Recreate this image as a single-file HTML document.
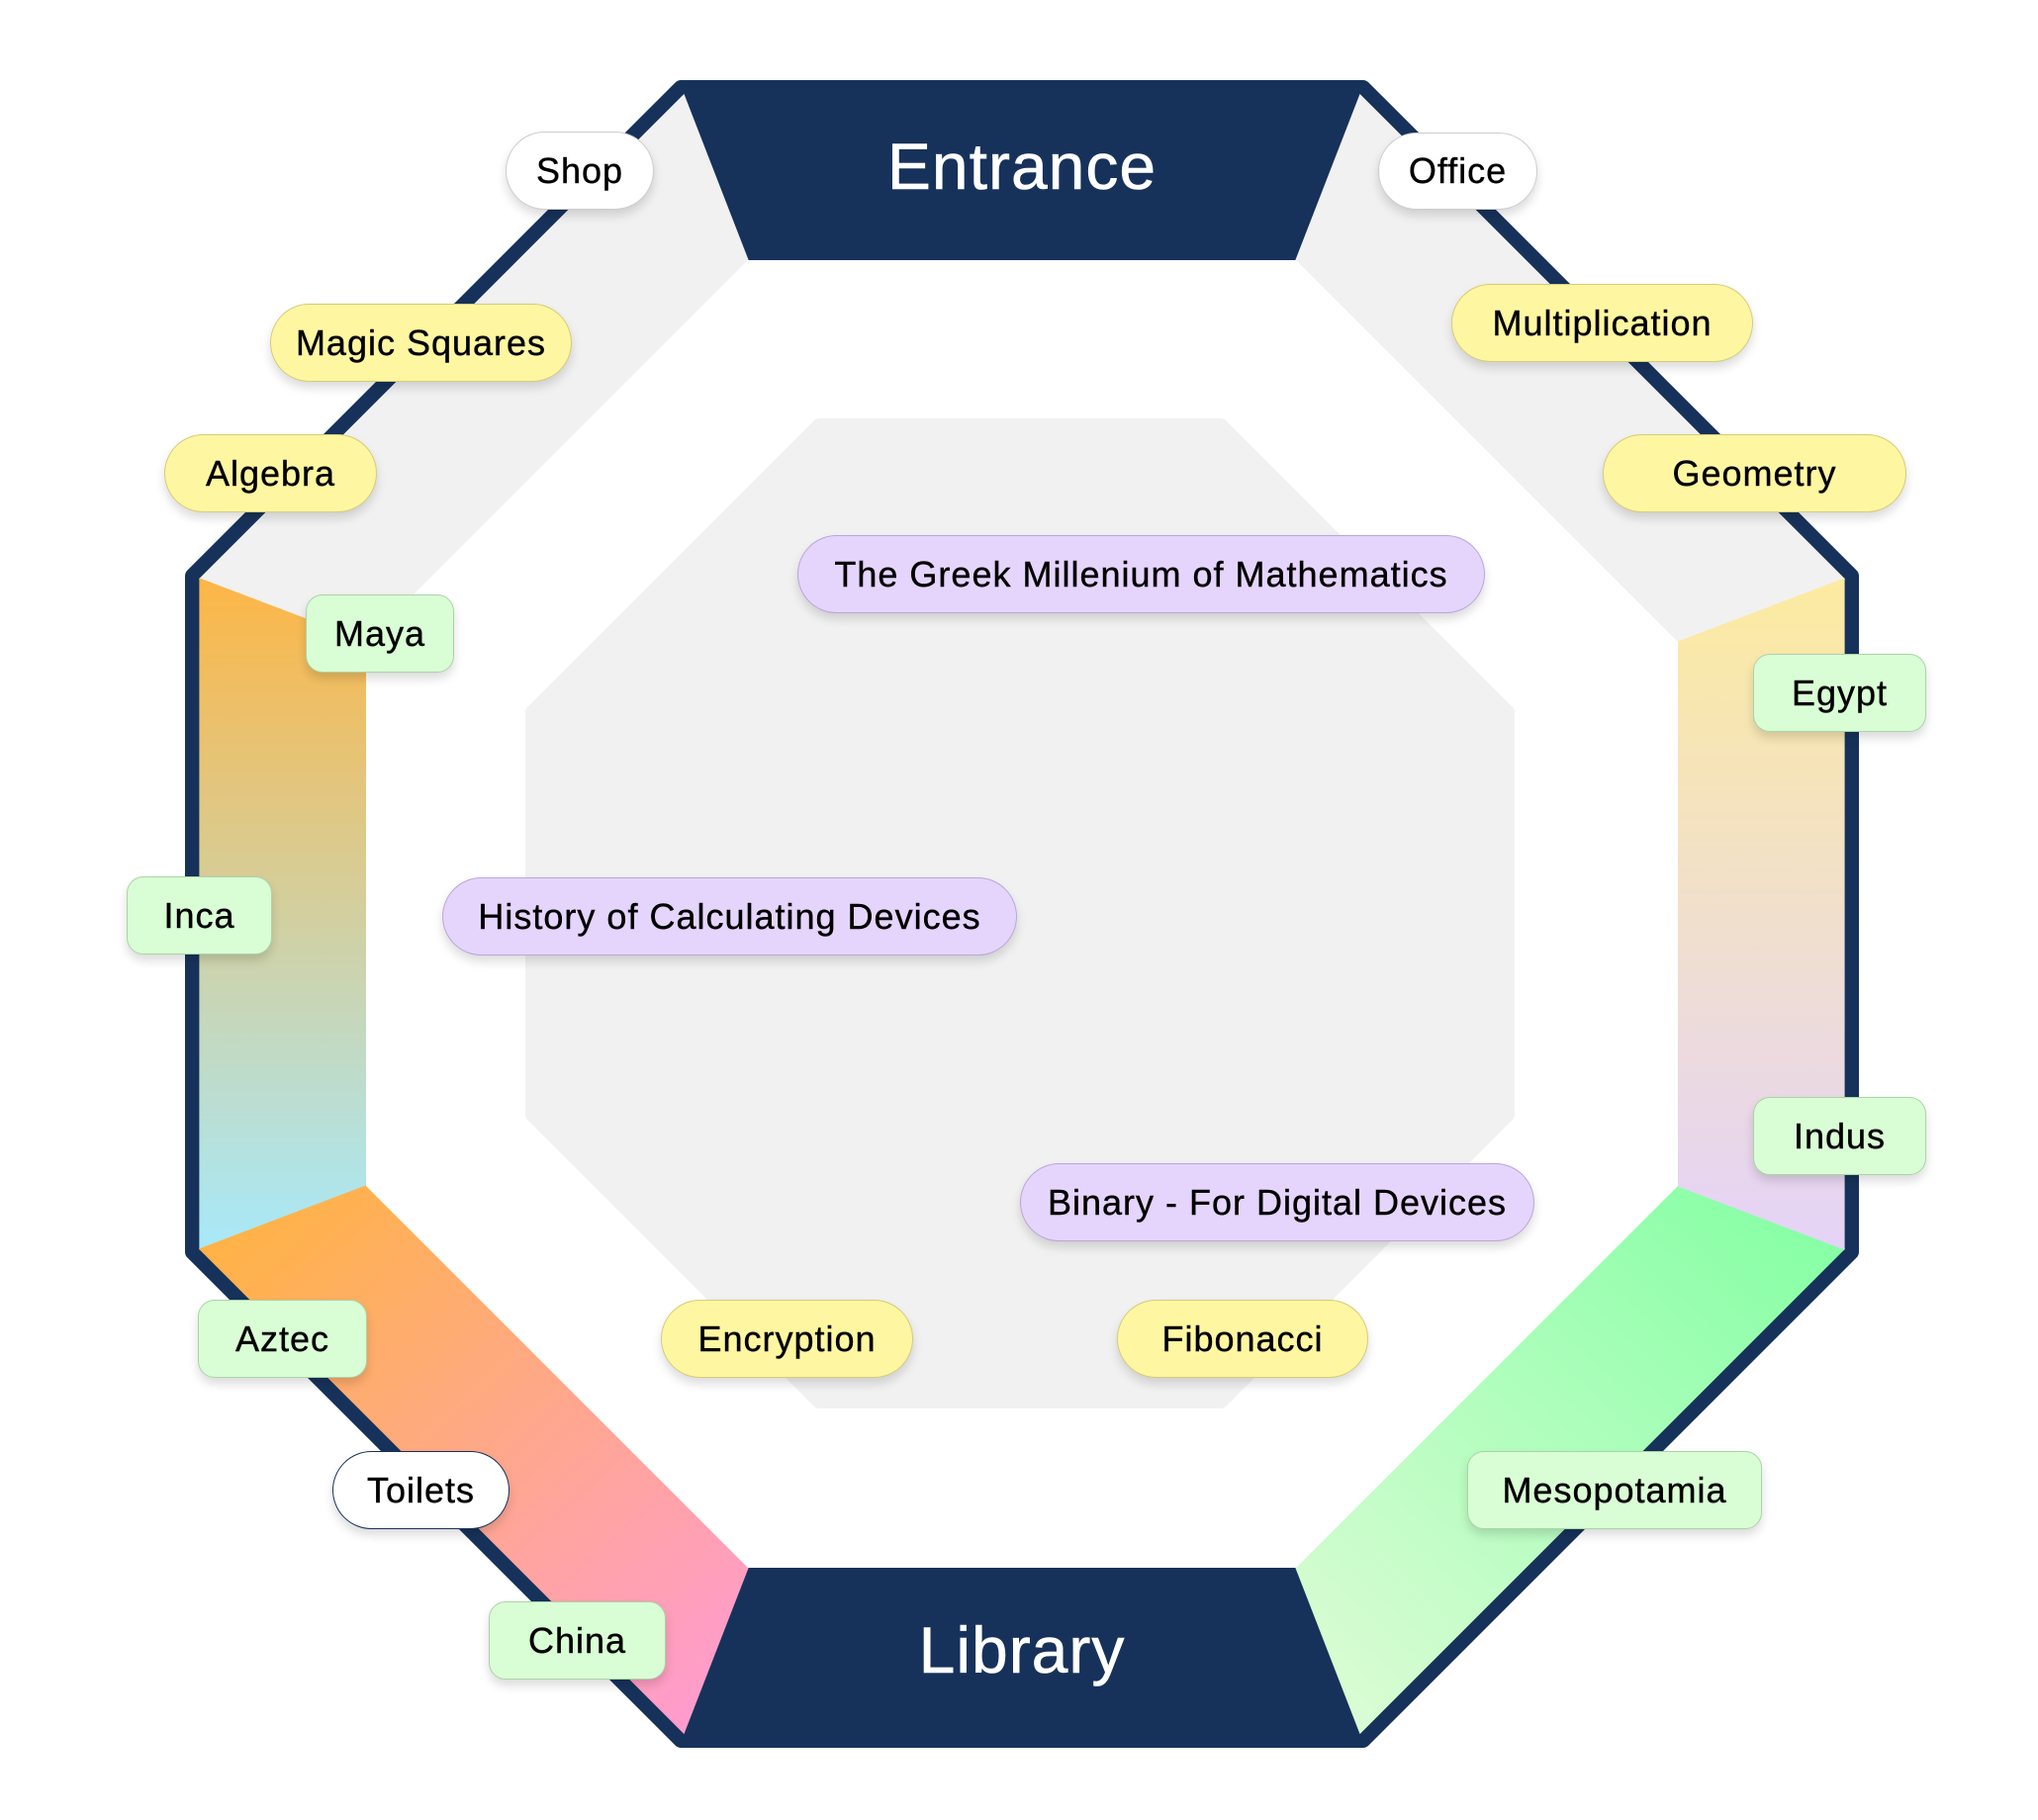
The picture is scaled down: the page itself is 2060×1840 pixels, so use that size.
<!DOCTYPE html>
<html>
<head>
<meta charset="utf-8">
<style>
  html, body { margin: 0; padding: 0; background: #ffffff; }
  body { width: 2060px; height: 1840px; position: relative; overflow: hidden;
         font-family: "Liberation Sans", "DejaVu Sans", sans-serif; }
  svg.bg { position: absolute; left: 0; top: 0; }
  .n { position: absolute; box-sizing: border-box; display: flex; align-items: center;
       justify-content: center; font-size: 36px; letter-spacing: 1px; color: #000;
       white-space: nowrap; box-shadow: 0 6px 10px rgba(0,0,0,0.14);
       -webkit-text-stroke: 0.4px #000; }
  .y { background: #FEF6A1; border: 1.5px solid #D6CC78; border-radius: 40px; }
  .g { background: #D9FDD5; border: 1.5px solid #AAD4A6; border-radius: 17px; }
  .p { background: #E5D5FC; border: 1.5px solid #B9A7DA; border-radius: 40px; }
  .w { background: #FFFFFF; border: 1.5px solid #CDCDCD; border-radius: 40px; }
  .wn { background: #FFFFFF; border: 1.5px solid #17325A; border-radius: 40px; }
</style>
</head>
<body>
<svg class="bg" width="2060" height="1840" viewBox="0 0 2060 1840" xmlns="http://www.w3.org/2000/svg">
  <defs>
    <linearGradient id="gLeft" gradientUnits="userSpaceOnUse" x1="0" y1="585" x2="0" y2="1263">
      <stop offset="0" stop-color="#FDB646"/>
      <stop offset="1" stop-color="#A8E9F9"/>
    </linearGradient>
    <linearGradient id="gBL" gradientUnits="userSpaceOnUse" x1="270" y1="1220" x2="720" y2="1720">
      <stop offset="0" stop-color="#FFB347"/>
      <stop offset="1" stop-color="#FF9CCE"/>
    </linearGradient>
    <linearGradient id="gBR" gradientUnits="userSpaceOnUse" x1="1800" y1="1220" x2="1350" y2="1720">
      <stop offset="0" stop-color="#88FFA6"/>
      <stop offset="1" stop-color="#DAFCD4"/>
    </linearGradient>
    <linearGradient id="gRight" gradientUnits="userSpaceOnUse" x1="0" y1="585" x2="0" y2="1263">
      <stop offset="0" stop-color="#FCEBA0"/>
      <stop offset="1" stop-color="#E5D3F8"/>
    </linearGradient>
  </defs>

  <!-- outer navy octagon -->
  <polygon points="688.3,89 1377.7,89 1871,582.3 1871,1265.7 1377.7,1759 688.3,1759 195,1265.7 195,582.3"
           fill="#17325A" stroke="#17325A" stroke-width="16" stroke-linejoin="round"/>

  <!-- band segments -->
  <polygon points="691.2,96 202,585.2 370,649 756,263" fill="#F1F1F1" stroke="#F1F1F1" stroke-width="1.2"/>
  <polygon points="1374.8,96 1864,585.2 1696,649 1310,263" fill="#F1F1F1" stroke="#F1F1F1" stroke-width="1.2"/>
  <polygon points="202,585.2 370,649 370,1199 202,1262.8" fill="url(#gLeft)" stroke="url(#gLeft)" stroke-width="1.2"/>
  <polygon points="202,1262.8 370,1199 756,1585 691.2,1752" fill="url(#gBL)" stroke="url(#gBL)" stroke-width="1.2"/>
  <polygon points="1864,1262.8 1696,1199 1310,1585 1374.8,1752" fill="url(#gBR)" stroke="url(#gBR)" stroke-width="1.2"/>
  <polygon points="1864,585.2 1696,649 1696,1199 1864,1262.8" fill="url(#gRight)" stroke="url(#gRight)" stroke-width="1.2"/>

  <!-- inner white octagon -->
  <polygon points="756,263 1310,263 1696,649 1696,1199 1310,1585 756,1585 370,1199 370,649" fill="#FFFFFF"/>

  <!-- center gray octagon -->
  <polygon points="828.3,431 1233.7,431 1523,720.3 1523,1126.7 1233.7,1416 828.3,1416 539,1126.7 539,720.3"
           fill="#F1F1F1" stroke="#F1F1F1" stroke-width="16" stroke-linejoin="round"/>

  <!-- titles -->
  <text x="1033" y="191" text-anchor="middle" fill="#FFFFFF" stroke="#FFFFFF" stroke-width="0.6" font-family="Liberation Sans, sans-serif" font-size="66" letter-spacing="1">Entrance</text>
  <text x="1033" y="1691" text-anchor="middle" fill="#FFFFFF" stroke="#FFFFFF" stroke-width="0.6" font-family="Liberation Sans, sans-serif" font-size="66" letter-spacing="1">Library</text>
</svg>

<div class="n w"  style="left:511px; top:133px; width:150px; height:79px;">Shop</div>
<div class="n w"  style="left:1393px; top:134px; width:161px; height:78px;">Office</div>
<div class="n y"  style="left:273px; top:307px; width:305px; height:79px;">Magic Squares</div>
<div class="n y"  style="left:1467px; top:287px; width:305px; height:79px;">Multiplication</div>
<div class="n y"  style="left:166px; top:439px; width:215px; height:79px;">Algebra</div>
<div class="n y"  style="left:1620px; top:439px; width:307px; height:79px;">Geometry</div>
<div class="n g"  style="left:309px; top:601px; width:150px; height:79px;">Maya</div>
<div class="n p"  style="left:806px; top:541px; width:695px; height:79px;">The Greek Millenium of Mathematics</div>
<div class="n g"  style="left:1772px; top:661px; width:175px; height:79px;">Egypt</div>
<div class="n g"  style="left:128px; top:886px; width:147px; height:79px;">Inca</div>
<div class="n p"  style="left:447px; top:887px; width:581px; height:79px;">History of Calculating Devices</div>
<div class="n g"  style="left:1772px; top:1109px; width:175px; height:79px;">Indus</div>
<div class="n p"  style="left:1031px; top:1176px; width:520px; height:79px;">Binary - For Digital Devices</div>
<div class="n g"  style="left:200px; top:1314px; width:171px; height:79px;">Aztec</div>
<div class="n y"  style="left:668px; top:1314px; width:255px; height:79px;">Encryption</div>
<div class="n y"  style="left:1129px; top:1314px; width:254px; height:79px;">Fibonacci</div>
<div class="n wn" style="left:336px; top:1467px; width:179px; height:79px;">Toilets</div>
<div class="n g"  style="left:1483px; top:1467px; width:298px; height:79px;">Mesopotamia</div>
<div class="n g"  style="left:494px; top:1619px; width:179px; height:79px;">China</div>
</body>
</html>
